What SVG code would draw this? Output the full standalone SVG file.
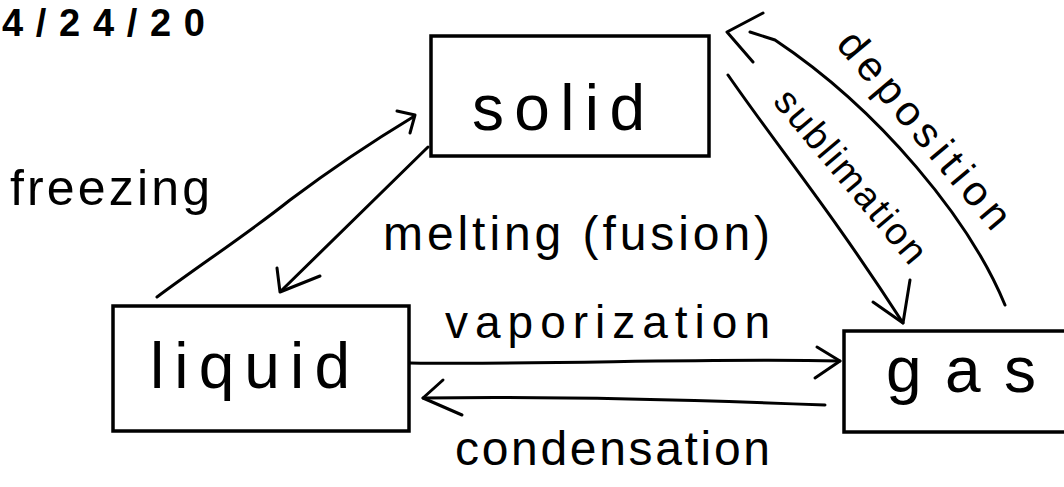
<svg xmlns="http://www.w3.org/2000/svg" width="1064" height="487" viewBox="0 0 1064 487">
<style>
.box{fill:none;stroke:#000;stroke-width:3.5}
.ln{fill:none;stroke:#000;stroke-width:3;stroke-linecap:round;stroke-linejoin:round}
.t{font-family:"Liberation Sans","DejaVu Sans",sans-serif;fill:#000}
</style>
<rect width="1064" height="487" fill="#fff"/>
<text class="t" x="2" y="36" font-size="38" font-weight="bold" textLength="203" lengthAdjust="spacing">4/24/20</text>
<g id="solid">
<rect class="box" x="431" y="36" width="278" height="120"/>
<text class="t" x="472" y="130" font-size="64" textLength="173" lengthAdjust="spacing">solid</text>
</g>
<g id="liquid">
<rect class="box" x="113" y="306" width="296" height="125"/>
<text class="t" x="150" y="388" font-size="64" textLength="200" lengthAdjust="spacing">liquid</text>
</g>
<g id="gas">
<rect class="box" x="844" y="331" width="240" height="101"/>
<text class="t" x="886" y="392" font-size="64" textLength="150" lengthAdjust="spacing">gas</text>
</g>
<g id="connectors">
<path class="ln" d="M157,297 C200,265 250,232 290,200 C330,170 370,143 413,117"/>
<path class="ln" d="M397,111 L415,115 L410,133"/>
<path class="ln" d="M428,147 L282,290"/>
<path class="ln" d="M277,268 L280,292 L320,276"/>
<path class="ln" d="M410,363 C550,365 700,358 840,361"/>
<path class="ln" d="M817,347 L840,361 L815,378"/>
<path class="ln" d="M825,405 C700,400 550,396 423,398"/>
<path class="ln" d="M443,380 L423,398 L462,415"/>
<path class="ln" d="M728,75 C780,150 830,210 903,323"/>
<path class="ln" d="M873,302 L903,323 L910,280"/>
<path class="ln" d="M1005,305 C970,220 880,110 775,40 L750,32"/>
<path class="ln" d="M763,13 L727,32 L753,62"/>
</g>
<g id="labels">
<text class="t" x="10" y="205" font-size="50" textLength="200" lengthAdjust="spacing">freezing</text>
<text class="t" x="383" y="250" font-size="48" textLength="387" lengthAdjust="spacing">melting (fusion)</text>
<text class="t" x="445" y="338" font-size="46" textLength="325" lengthAdjust="spacing">vaporization</text>
<text class="t" x="455" y="465" font-size="48" textLength="315" lengthAdjust="spacing">condensation</text>
<text class="t" transform="translate(772,102) rotate(50)" font-size="38" textLength="215" lengthAdjust="spacing">sublimation</text>
<text class="t" transform="translate(835,45) rotate(50)" font-size="42" textLength="245" lengthAdjust="spacing">deposition</text>
</g>
</svg>
